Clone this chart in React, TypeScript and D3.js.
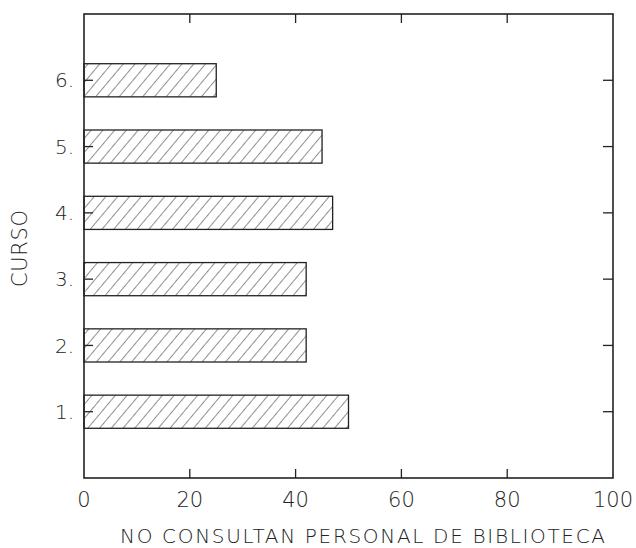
import React from "react";
import * as d3 from "d3";

const categories = ["1.", "2.", "3.", "4.", "5.", "6."];
const values = [50, 42, 42, 47, 45, 25];
const xTicks = [0, 20, 40, 60, 80, 100];
const xTitle = "NO CONSULTAN PERSONAL DE BIBLIOTECA";
const yTitle = "CURSO";

export default function App() {
  const W = 636, H = 548;
  const left = 84, right = 613, top = 14, bottom = 478;
  const x = d3.scaleLinear().domain([0, 100]).range([left, right]);
  const y = d3.scaleLinear().domain([0, 7]).range([bottom, top]);
  const barH = y(0) - y(0.5);
  const font = "'DejaVu Sans', 'Liberation Sans', sans-serif";
  const ink = "#222";
  return (
    <svg width={W} height={H} style={{ position: "absolute", left: 0, top: 0, background: "#fff" }}>
      <defs>
        <pattern id="hatch" patternUnits="userSpaceOnUse" width={9} height={9} patternTransform="rotate(40)">
          <line x1={0} y1={0} x2={0} y2={9} stroke="#222" strokeWidth={1} />
        </pattern>
      </defs>
      <rect x={0} y={0} width={W} height={H} fill="#fff" />
      {values.map((v, i) => (
        <rect key={i} x={x(0)} y={y(i + 1) - barH / 2} width={x(v) - x(0)} height={barH}
          fill="url(#hatch)" stroke={ink} strokeWidth={1.3} />
      ))}
      <rect x={left} y={top} width={right - left} height={bottom - top} fill="none" stroke={ink} strokeWidth={1.6} />
      {xTicks.slice(1, -1).map((t) => (
        <g key={t}>
          <line x1={x(t)} x2={x(t)} y1={bottom} y2={bottom - 9} stroke={ink} strokeWidth={1.3} />
          <line x1={x(t)} x2={x(t)} y1={top} y2={top + 9} stroke={ink} strokeWidth={1.3} />
        </g>
      ))}
      {categories.map((c, i) => (
        <g key={c}>
          <line x1={left} x2={left + 9} y1={y(i + 1)} y2={y(i + 1)} stroke={ink} strokeWidth={1.3} />
          <line x1={right} x2={right - 10} y1={y(i + 1)} y2={y(i + 1)} stroke={ink} strokeWidth={1.3} />
          <text x={left - 10} y={y(i + 1)} dy="0.36em" textAnchor="end" fontFamily={font}
            fontWeight={200} fontSize={20} fill={ink}>{c}</text>
        </g>
      ))}
      {xTicks.map((t) => (
        <text key={t} x={x(t)} y={507} textAnchor="middle" fontFamily={font} fontWeight={200} fontSize={21}
          fill={ink}>{t}</text>
      ))}
      <text x={120} y={543} textLength={485} lengthAdjust="spacing" fontFamily={font} fontWeight={200}
        fontSize={20} fill={ink}>{xTitle}</text>
      <text transform={`translate(27, 287) rotate(-90)`} textLength={77} lengthAdjust="spacing"
        fontFamily={font} fontWeight={200} fontSize={21} fill={ink}>{yTitle}</text>
    </svg>
  );
}
